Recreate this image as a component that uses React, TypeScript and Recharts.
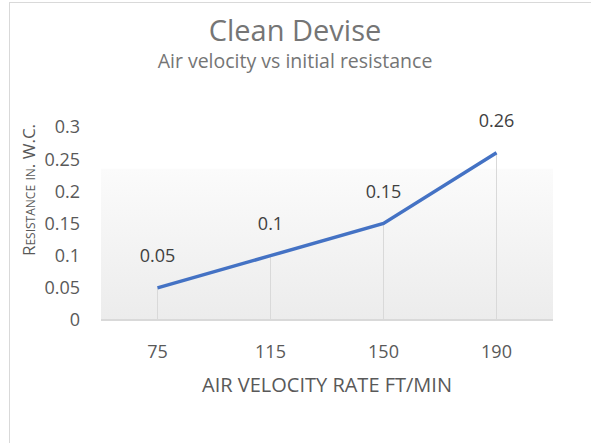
import { ComposedChart, Bar, Line, XAxis, YAxis, ReferenceArea, LabelList } from 'recharts';

const velocities = ['75', '115', '150', '190'];
const resistance = [0.05, 0.1, 0.15, 0.26];
const yTicks = [0, 0.05, 0.1, 0.15, 0.2, 0.25, 0.3];

const data = velocities.map((v, i) => ({ velocity: v, resistance: resistance[i] }));

const font = '"Open Sans", Lato, sans-serif';

export default function App() {
  return (
    <div style={{ position: 'absolute', left: 0, top: 0, width: 591, height: 443, overflow: 'hidden', background: '#fff', fontFamily: font }}>
      {/* chart frame */}
      <div style={{ position: 'absolute', left: 9, top: 2, width: 640, height: 500, border: '1px solid #d9d9d9' }} />

      <div style={{ position: 'absolute', left: 95, top: 13, width: 400, textAlign: 'center', fontSize: 29, color: '#757575', lineHeight: '34px' }}>
        Clean Devise
      </div>
      <div style={{ position: 'absolute', left: 95, top: 49, width: 400, textAlign: 'center', fontSize: 19.5, color: '#757575', lineHeight: '24px' }}>
        Air velocity vs initial resistance
      </div>

      <ComposedChart
        width={591}
        height={443}
        data={data}
        margin={{ top: 127, right: 38, bottom: 93, left: 41 }}
        style={{ position: 'absolute', left: 0, top: 0 }}
      >
        <defs>
          <linearGradient id="plotBg" x1="0" y1="0" x2="0" y2="1">
            <stop offset="0%" stopColor="#fbfbfb" />
            <stop offset="100%" stopColor="#ececec" />
          </linearGradient>
        </defs>
        <ReferenceArea y1={0} y2={0.235} fill="url(#plotBg)" fillOpacity={1} stroke="none" ifOverflow="visible" />
        <XAxis
          dataKey="velocity"
          height={30}
          axisLine={{ stroke: '#d9d9d9', strokeWidth: 2 }}
          tickLine={false}
          tickSize={0}
          tickMargin={25}
          tick={{ fill: '#595959', fontSize: 18, fontFamily: font }}
        />
        <YAxis
          width={60}
          domain={[0, 0.3]}
          ticks={yTicks}
          axisLine={false}
          tickLine={false}
          tickSize={0}
          tickMargin={21}
          tick={{ fill: '#595959', fontSize: 18, fontFamily: font }}
        />
        <Bar dataKey="resistance" barSize={1} fill="#d9d9d9" isAnimationActive={false} />
        <Line
          dataKey="resistance"
          stroke="#4472C4"
          strokeWidth={3.5}
          dot={false}
          activeDot={false}
          isAnimationActive={false}
        >
          <LabelList dataKey="resistance" position="top" offset={26} fill="#404040" fontSize={18} fontFamily={font} />
        </Line>
      </ComposedChart>

      <div style={{ position: 'absolute', left: 127, top: 371, width: 400, textAlign: 'center', fontSize: 20, color: '#595959' }}>
        AIR VELOCITY RATE FT/MIN
      </div>

      <div
        style={{
          position: 'absolute',
          left: 29 - 100,
          top: 190 - 10,
          width: 200,
          height: 20,
          lineHeight: '20px',
          textAlign: 'center',
          transform: 'rotate(-90deg)',
          fontSize: 17,
          fontVariant: 'small-caps',
          color: '#595959',
          whiteSpace: 'nowrap',
        }}
      >
        Resistance in. W.C.
      </div>
    </div>
  );
}
